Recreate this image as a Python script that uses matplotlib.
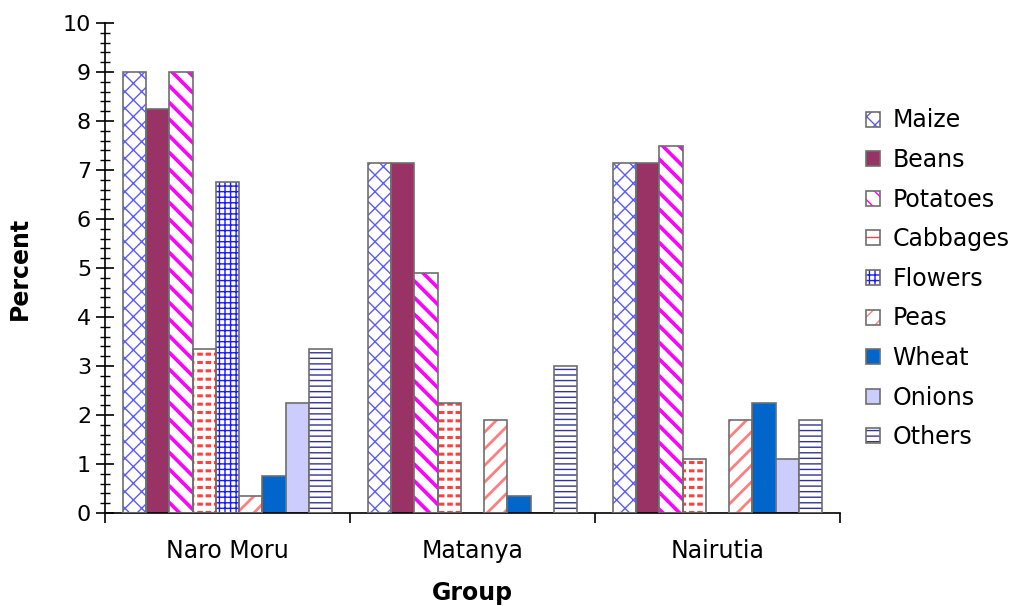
import numpy as np
import matplotlib
matplotlib.use("Agg")
import matplotlib.pyplot as plt
from matplotlib.ticker import MultipleLocator, FixedLocator, FixedFormatter, NullFormatter

# crop shares per location
groups = ["Naro Moru", "Matanya", "Nairutia"]
crops = ["Maize", "Beans", "Potatoes", "Cabbages", "Flowers", "Peas", "Wheat", "Onions", "Others"]

maize = [9.0, 7.15, 7.15]
beans = [8.25, 7.15, 7.15]
potatoes = [9.0, 4.9, 7.5]
cabbages = [3.35, 2.25, 1.1]
flowers = [6.75, 0.0, 0.0]
peas = [0.35, 1.9, 1.9]
wheat = [0.75, 0.35, 2.25]
onions = [2.25, 0.0, 1.1]
others = [3.35, 3.0, 1.9]

series = [maize, beans, potatoes, cabbages, flowers, peas, wheat, onions, others]

# (face colour, hatch, hatch colour, hatch line width)
styles = [
    ("white", "xx", "#5a5aff", 1.0),
    ("#993366", None, None, 0),
    ("white", "\\\\", "#ff00ff", 2.6),
    ("white", "--", "#ff4040", 2.2),
    ("white", "+++", "#1a1aff", 1.0),
    ("white", "//", "#ff7f7f", 2.0),
    ("#0066cc", None, None, 0),
    ("#ccccff", None, None, 0),
    ("white", "---", "#333399", 1.0),
]

plt.rcParams['font.family'] = 'DejaVu Sans'

fig = plt.figure(figsize=(10.33, 6.06), dpi=100)
ax = fig.add_axes([0.1016, 0.1535, 0.7115, 0.8085])

x = np.arange(len(groups))
w = 0.095
handles = []
for i, (vals, (fc, hatch, hc, hlw)) in enumerate(zip(series, styles)):
    pos = x + (i - 4) * w
    if hatch is None:
        b = ax.bar(pos, vals, w, color=fc, edgecolor="#6e6e6e", linewidth=1.2, zorder=2)
        handles.append(b[0])
    else:
        with plt.rc_context({'hatch.linewidth': hlw}):
            h = ax.bar(pos, vals, w, color=fc, edgecolor=hc, hatch=hatch, linewidth=0, zorder=2)
        if crops[i] == "Cabbages":
            # break the horizontal lines into dashes
            with plt.rc_context({'hatch.linewidth': 2.0}):
                ax.bar(pos, vals, w, fill=False, edgecolor="white", hatch="||", linewidth=0, zorder=2.5)
        o = ax.bar(pos, vals, w, fill=False, edgecolor="#6e6e6e", linewidth=1.2, zorder=3)
        for v, p in zip(vals, o):
            if v == 0:
                p.set_visible(False)
        handles.append((h[0], o[0]))

ax.set_xlim(-0.5, 2.5)
ax.set_ylim(0, 10)
ax.spines['top'].set_visible(False)
ax.spines['right'].set_visible(False)
ax.spines['left'].set_linewidth(1.2)
ax.spines['bottom'].set_linewidth(1.2)

ax.yaxis.set_major_locator(MultipleLocator(1))
ax.yaxis.set_minor_locator(MultipleLocator(0.2))
ax.tick_params(axis='y', which='major', direction='inout', length=13, width=1.2, labelsize=16)
ax.tick_params(axis='y', which='minor', direction='inout', length=7, width=1.0)

ax.xaxis.set_major_locator(FixedLocator([-0.5, 0.5, 1.5, 2.5]))
ax.xaxis.set_major_formatter(NullFormatter())
ax.xaxis.set_minor_locator(FixedLocator(x))
ax.xaxis.set_minor_formatter(FixedFormatter(groups))
ax.tick_params(axis='x', which='major', direction='out', length=7, width=1.2)
ax.tick_params(axis='x', which='minor', length=0, pad=19, labelsize=17)

ax.set_xlabel("Group", fontsize=17, fontweight='bold', labelpad=13)
ax.set_ylabel("Percent", fontsize=17, fontweight='bold', labelpad=22)

fig.legend(handles, crops, loc='center left', bbox_to_anchor=(0.818, 0.54),
           frameon=False, fontsize=17, handlelength=0.6, handleheight=0.6,
           handletextpad=0.5, labelspacing=0.66)

fig.savefig("out.png", dpi=100)
